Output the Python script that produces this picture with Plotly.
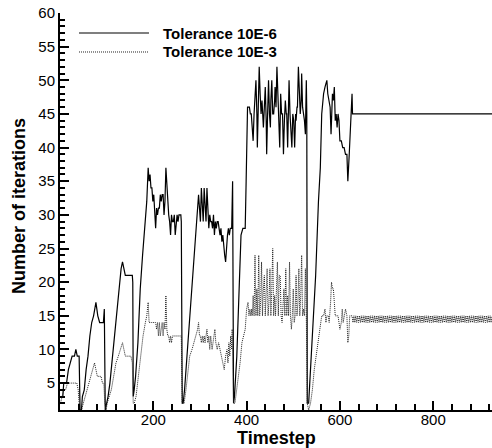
import plotly.graph_objects as go

# Iteration counts per timestep, (timestep, iterations)
fine_tol = [
    (1, 3), (6, 3), (8, 5), (14, 5), (18, 7), (22, 8), (26, 9), (31, 9), (34, 10), (37, 9), (41, 9), (43, 1),
    (46, 1), (48, 3), (52, 4), (56, 7), (60, 9), (64, 12), (68, 14), (72, 15), (75, 16), (77, 17), (79, 16),
    (81, 15), (85, 14), (93, 14), (95, 16), (97, 1),
    (100, 2), (103, 3), (107, 5), (111, 8), (116, 11), (121, 15), (126, 19), (131, 22), (134, 23), (137, 22),
    (140, 21), (150, 21), (155, 21), (156, 20), (157, 3),
    (159, 4), (162, 6), (167, 11), (172, 19), (177, 24), (183, 29), (186, 32), (189, 37), (191, 35), (193, 36),
    (195, 34), (197, 34), (199, 32), (201, 33), (203, 30), (205, 28), (207, 31), (209, 30), (211, 31), (213, 31),
    (215, 33), (217, 32), (219, 33), (221, 33), (223, 30), (225, 32), (227, 37), (229, 34), (231, 31), (233, 30),
    (235, 29), (237, 27), (239, 30), (241, 29), (243, 29), (245, 30), (247, 27), (249, 29), (251, 30), (253, 29),
    (255, 30), (259, 30), (260, 29), (262, 2),
    (264, 2), (267, 4), (271, 8), (275, 12), (280, 17), (285, 22), (290, 27), (294, 31), (297, 33), (299, 31),
    (301, 29), (303, 34), (305, 30), (307, 29), (309, 34), (311, 30), (313, 29), (315, 34), (317, 30), (319, 28),
    (321, 30), (323, 29), (325, 29), (327, 28), (329, 30), (331, 27), (333, 29), (335, 28), (337, 29), (339, 29),
    (341, 28), (343, 27), (345, 28), (347, 26), (349, 27), (351, 25), (353, 24), (355, 23), (357, 26), (359, 27),
    (361, 28), (363, 27), (365, 28), (368, 28), (370, 35), (372, 2),
    (374, 3), (379, 9), (384, 19), (388, 27), (392, 28), (397, 28), (399, 35), (402, 46), (404, 46), (406, 46),
    (408, 45), (410, 45), (412, 43), (414, 41), (416, 45), (418, 49), (420, 50), (422, 45), (423, 40), (425, 46),
    (427, 52), (429, 48), (431, 45), (433, 47), (435, 45), (436, 43), (438, 46), (440, 49), (442, 44), (443, 39),
    (445, 45), (447, 50), (449, 45), (451, 43), (452, 47), (454, 50), (456, 45), (458, 45), (460, 47), (461, 49),
    (463, 46), (465, 52), (467, 48), (468, 46), (470, 44), (471, 40), (473, 48), (475, 45), (477, 45), (479, 39),
    (481, 44), (483, 47), (485, 45), (486, 45), (488, 40), (490, 46), (491, 50), (493, 45), (495, 43), (497, 40),
    (499, 45), (501, 44), (503, 40), (505, 45), (506, 44), (508, 46), (509, 46), (511, 52), (513, 48), (515, 45),
    (517, 47), (518, 51), (520, 46), (522, 45), (524, 44), (526, 42), (528, 50), (529, 45), (530, 2),
    (533, 2), (538, 8), (543, 15), (548, 21), (554, 32), (558, 37), (561, 45), (565, 48), (568, 49), (572, 50),
    (574, 48), (577, 47), (579, 46), (581, 42), (584, 48), (586, 47), (588, 49), (590, 44), (592, 45), (594, 43),
    (596, 45), (598, 44), (600, 41), (603, 41), (606, 40), (609, 40), (612, 39), (615, 39), (617, 35), (620, 39),
    (623, 45), (626, 48), (627, 45), (926, 45),
]

coarse_tol = [
    (1, 2), (5, 3), (8, 4), (12, 4), (16, 5), (36, 5), (39, 4), (42, 1), (46, 1), (50, 2), (54, 3), (58, 4),
    (62, 5), (66, 6), (70, 7), (74, 8), (77, 7), (80, 6), (84, 6), (88, 6), (91, 5), (94, 5), (96, 2), (99, 1),
    (101, 2), (105, 3), (110, 4), (115, 6), (120, 8), (125, 9), (130, 10), (134, 11), (137, 10), (140, 9),
    (152, 9), (155, 8), (157, 2),
    (159, 2), (163, 3), (168, 6), (173, 9), (178, 12), (183, 14), (186, 15), (189, 17), (191, 14), (196, 14),
    (201, 14), (205, 14), (207, 13), (209, 14), (211, 12), (213, 14), (215, 12), (217, 13), (219, 14), (221, 12),
    (223, 14), (225, 13), (227, 18), (229, 13), (231, 12), (233, 12), (235, 11), (237, 12), (239, 11), (241, 12),
    (245, 12), (250, 12), (255, 12), (260, 12), (262, 2),
    (264, 2), (266, 2), (270, 4), (274, 7), (278, 9), (283, 10), (287, 11), (291, 12), (295, 13), (297, 14),
    (299, 12), (301, 12), (303, 11), (305, 12), (307, 11), (309, 12), (311, 11), (313, 12), (315, 13), (317, 11),
    (319, 12), (321, 10), (323, 12), (326, 10), (329, 12), (332, 13), (334, 11), (337, 10), (340, 11), (343, 10),
    (346, 9), (349, 8), (352, 7), (355, 9), (358, 10), (360, 8), (362, 11), (364, 9), (366, 12), (368, 10),
    (369, 13), (370, 9), (372, 2),
    (375, 2), (379, 4), (383, 6), (386, 8), (390, 11), (393, 12), (397, 13), (400, 16), (403, 17), (405, 15),
    (407, 16), (409, 15), (411, 16), (412, 15), (414, 18), (416, 15), (418, 24), (420, 15), (422, 19), (424, 15),
    (426, 24), (428, 15), (430, 17), (432, 23), (434, 15), (436, 19), (438, 21), (440, 15), (442, 18), (444, 22),
    (446, 15), (448, 17), (450, 22), (452, 15), (454, 19), (456, 25), (458, 15), (460, 18), (462, 15), (464, 21),
    (466, 23), (468, 15), (470, 21), (472, 21), (474, 15), (476, 14), (478, 17), (480, 19), (482, 15), (484, 22),
    (486, 15), (488, 18), (490, 15), (492, 23), (494, 15), (496, 13), (498, 15), (500, 19), (502, 14), (504, 15),
    (506, 21), (508, 15), (510, 17), (512, 22), (514, 15), (516, 18), (518, 24), (520, 15), (522, 16), (524, 15),
    (526, 22), (528, 15), (530, 2),
    (533, 1), (537, 2), (541, 4), (545, 7), (549, 9), (554, 12), (558, 14), (561, 15), (565, 15), (568, 16),
    (570, 14), (572, 15), (575, 15), (577, 14), (580, 17), (582, 20), (584, 19), (586, 19), (588, 17), (590, 15),
    (593, 15), (596, 15), (598, 14), (600, 13), (603, 14), (605, 16), (607, 14), (610, 15), (612, 16), (615, 15),
    (617, 11), (619, 12), (621, 15), (623, 15), (626, 15),
]

# Converged regime of the coarse tolerance: iterations flip between 14 and 15
tail_steps = list(range(628, 928, 2))
tail_coarse_iters = [
    14, 15, 14, 15, 14, 15, 14, 15, 14, 15, 14, 15, 14, 15, 14, 15, 14, 15, 14, 15, 14, 15, 14, 15, 14, 15, 14, 15, 14, 15,
    14, 15, 14, 15, 14, 15, 14, 15, 14, 15, 14, 15, 14, 15, 14, 15, 14, 15, 14, 15, 14, 15, 14, 15, 14, 15, 14, 15, 14, 15,
    14, 15, 14, 15, 14, 15, 14, 15, 14, 15, 14, 15, 14, 15, 14, 15, 14, 15, 14, 15, 14, 15, 14, 15, 14, 15, 14, 15, 14, 15,
    14, 15, 14, 15, 14, 15, 14, 15, 14, 15, 14, 15, 14, 15, 14, 15, 14, 15, 14, 15, 14, 15, 14, 15, 14, 15, 14, 15, 14, 15,
    14, 15, 14, 15, 14, 15, 14, 15, 14, 15, 14, 15, 14, 15, 14, 15, 14, 15, 14, 15, 14, 15, 14, 15, 14, 15, 14, 15, 14, 15,
]

series_names = ["Tolerance 10E-6", "Tolerance 10E-3"]
x_tick_values = [200, 400, 600, 800]
y_tick_values = [5, 10, 15, 20, 25, 30, 35, 40, 45, 50, 55, 60]

fine_x = [p[0] for p in fine_tol]
fine_y = [p[1] for p in fine_tol]
coarse_x = [p[0] for p in coarse_tol] + tail_steps
coarse_y = [p[1] for p in coarse_tol] + tail_coarse_iters

FONT = "Liberation Sans, Arial, sans-serif"
SOLID = dict(color="black", width=1.2)
DOTTED = dict(color="#222222", width=1, dash="1px,1px")

fig = go.Figure()
fig.add_trace(go.Scatter(x=fine_x, y=fine_y, mode="lines", line=SOLID,
                         name=series_names[0], showlegend=False))
fig.add_trace(go.Scatter(x=coarse_x, y=coarse_y, mode="lines", line=DOTTED,
                         name=series_names[1], showlegend=False))

# Legend drawn as long line samples with bold labels
legend_rows = [(0.9496, SOLID, series_names[0]), (0.9018, DOTTED, series_names[1])]
for ypos, style, label in legend_rows:
    fig.add_shape(type="line", xref="paper", yref="paper", x0=0.044, x1=0.206,
                  y0=ypos, y1=ypos, line=style)
    fig.add_annotation(xref="paper", yref="paper", x=0.2338, y=ypos, text="<b>%s</b>" % label,
                       showarrow=False, xanchor="left", yanchor="middle",
                       font=dict(family=FONT, size=15, color="black"))

# Axis titles
fig.add_annotation(xref="paper", yref="paper", x=0.5, y=-0.07, text="<b>Timestep</b>",
                   showarrow=False, xanchor="center", yanchor="middle",
                   font=dict(family=FONT, size=18, color="black"))
fig.add_annotation(xref="paper", yref="paper", x=-0.095, y=0.514, text="<b>Number of iterations</b>",
                   showarrow=False, xanchor="center", yanchor="middle", textangle=-90,
                   font=dict(family=FONT, size=18, color="black"))

fig.update_layout(
    width=492, height=448,
    margin=dict(l=60, r=0, t=13, b=38),
    paper_bgcolor="white", plot_bgcolor="white",
    font=dict(family=FONT, size=15, color="black"),
)
fig.update_xaxes(
    range=[0, 926], showgrid=False, zeroline=False,
    showline=True, linecolor="black", linewidth=2,
    tickmode="array", tickvals=x_tick_values,
    ticks="inside", ticklen=9, tickwidth=2, tickcolor="black",
    ticklabelstandoff=-5,
    tickfont=dict(family=FONT, size=15, color="black"),
    minor=dict(tickmode="linear", tick0=0, dtick=40, ticks="inside", ticklen=6,
               tickwidth=1.5, tickcolor="black", showgrid=False),
)
fig.update_yaxes(
    range=[1, 60], showgrid=False, zeroline=False,
    showline=True, linecolor="black", linewidth=2,
    tickmode="array", tickvals=y_tick_values,
    ticks="inside", ticklen=9, tickwidth=2, tickcolor="black",
    tickfont=dict(family=FONT, size=15, color="black"),
    minor=dict(tickmode="linear", tick0=0, dtick=1, ticks="inside", ticklen=5,
               tickwidth=1.5, tickcolor="black", showgrid=False),
)

fig.write_html("out.html")
